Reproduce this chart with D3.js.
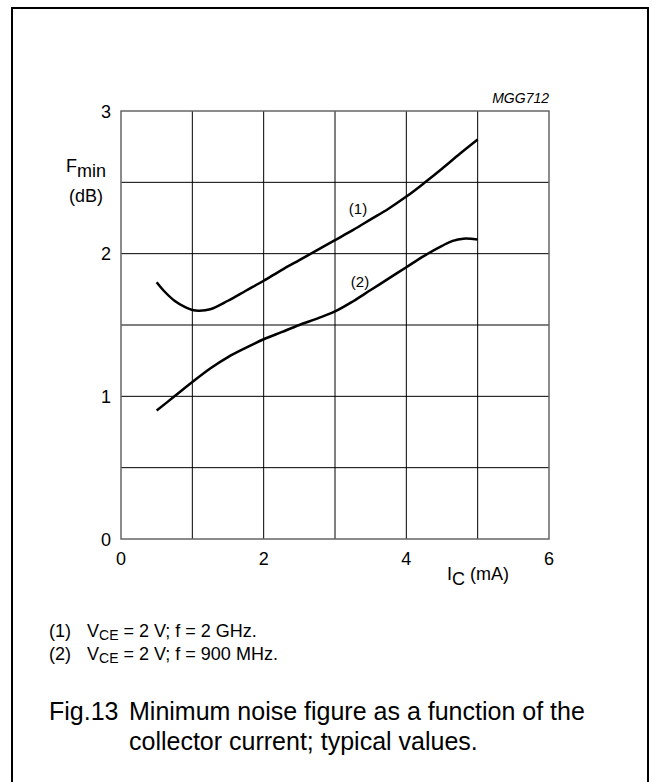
<!DOCTYPE html>
<html>
<head>
<meta charset="utf-8">
<script src="https://cdn.jsdelivr.net/npm/d3@7"></script>
<style>
  body { margin: 0; background: #fff; }
  svg text { font-family: Arial, "Liberation Sans", Helvetica, sans-serif; fill: #000; }
</style>
</head>
<body>
<div id="chart"></div>
<script>
const width = 652;
const height = 782;
const margin = {top: 111, left: 121};
const plotW = 428;
const plotH = 428;

// I_C (mA)
const icCurve1 = [0.5, 0.6, 0.75, 0.9, 1.0, 1.1, 1.25, 1.5, 1.75, 2.0, 2.25, 2.5, 2.75, 3.0, 3.25, 3.5, 3.75, 4.0, 4.25, 4.5, 4.75, 5.0];
// Fmin (dB), (1) f = 2 GHz
const fminCurve1 = [1.80, 1.74, 1.67, 1.625, 1.605, 1.60, 1.61, 1.67, 1.74, 1.81, 1.885, 1.955, 2.025, 2.095, 2.165, 2.24, 2.315, 2.40, 2.495, 2.595, 2.70, 2.80];

const icCurve2 = [0.5, 0.75, 1.0, 1.25, 1.5, 1.75, 2.0, 2.25, 2.5, 2.75, 3.0, 3.25, 3.5, 3.75, 4.0, 4.25, 4.5, 4.65, 4.8, 5.0];
// Fmin (dB), (2) f = 900 MHz
const fminCurve2 = [0.90, 1.00, 1.10, 1.195, 1.275, 1.34, 1.40, 1.45, 1.50, 1.545, 1.595, 1.665, 1.745, 1.825, 1.905, 1.985, 2.055, 2.09, 2.105, 2.10];

const xTicks = [0, 2, 4, 6];
const yTicks = [0, 1, 2, 3];
const xGrid = [1, 2, 3, 4, 5];
const yGrid = [0.5, 1, 1.5, 2, 2.5];

const svg = d3.select("#chart").append("svg")
    .attr("width", width)
    .attr("height", height);

// outer frame (open at the bottom)
svg.append("path")
    .attr("d", "M12,790 V8 H648 V790")
    .attr("fill", "none")
    .attr("stroke", "#000")
    .attr("stroke-width", 2);

const x = d3.scaleLinear().domain([0, 6]).range([margin.left, margin.left + plotW]);
const y = d3.scaleLinear().domain([0, 3]).range([margin.top + plotH, margin.top]);

const g = svg.append("g");

g.selectAll(".vgrid")
    .data(xGrid)
    .enter().append("line")
    .attr("x1", d => x(d)).attr("x2", d => x(d))
    .attr("y1", y(0)).attr("y2", y(3))
    .attr("stroke", "#000")
    .attr("stroke-width", 1);

g.selectAll(".hgrid")
    .data(yGrid)
    .enter().append("line")
    .attr("x1", x(0)).attr("x2", x(6))
    .attr("y1", d => y(d)).attr("y2", d => y(d))
    .attr("stroke", "#000")
    .attr("stroke-width", 1);

g.append("rect")
    .attr("x", x(0)).attr("y", y(3))
    .attr("width", x(6) - x(0)).attr("height", y(0) - y(3))
    .attr("fill", "none")
    .attr("stroke", "#666")
    .attr("stroke-width", 1.5);

// tick labels
g.selectAll(".ylab")
    .data(yTicks)
    .enter().append("text")
    .attr("x", x(0) - 10)
    .attr("y", d => y(d) + 6.5)
    .attr("text-anchor", "end")
    .attr("font-size", 18)
    .text(d => d);

g.selectAll(".xlab")
    .data(xTicks)
    .enter().append("text")
    .attr("x", d => x(d))
    .attr("y", y(0) + 26)
    .attr("text-anchor", "middle")
    .attr("font-size", 18)
    .text(d => d);

// axis titles
const yTitle = svg.append("text").attr("x", 66).attr("y", 172).attr("font-size", 18);
yTitle.append("tspan").text("F");
yTitle.append("tspan").attr("dy", 5).text("min");
svg.append("text").attr("x", 86).attr("y", 202).attr("text-anchor", "middle").attr("font-size", 18).text("(dB)");

const xTitle = svg.append("text").attr("x", 447).attr("y", 580).attr("font-size", 18);
xTitle.append("tspan").text("I");
xTitle.append("tspan").attr("dy", 5).text("C");
xTitle.append("tspan").attr("dy", -5).text(" (mA)");

svg.append("text")
    .attr("x", x(6)).attr("y", 103)
    .attr("text-anchor", "end")
    .attr("font-size", 14)
    .attr("font-style", "italic")
    .text("MGG712");

// curves
const line = d3.line()
    .x(d => x(d[0]))
    .y(d => y(d[1]))
    .curve(d3.curveCatmullRom);

g.append("path")
    .datum(d3.zip(icCurve1, fminCurve1))
    .attr("d", line)
    .attr("fill", "none")
    .attr("stroke", "#000")
    .attr("stroke-width", 2.5);

g.append("path")
    .datum(d3.zip(icCurve2, fminCurve2))
    .attr("d", line)
    .attr("fill", "none")
    .attr("stroke", "#000")
    .attr("stroke-width", 2.5);

svg.append("text").attr("x", 358).attr("y", 214).attr("text-anchor", "middle").attr("font-size", 15).text("(1)");
svg.append("text").attr("x", 360).attr("y", 287).attr("text-anchor", "middle").attr("font-size", 15).text("(2)");

// footnotes
const notes = [
  {num: "(1)", text: " = 2 V; f = 2 GHz.", y: 637},
  {num: "(2)", text: " = 2 V; f = 900 MHz.", y: 660}
];
notes.forEach(n => {
    svg.append("text").attr("x", 49).attr("y", n.y).attr("font-size", 18).text(n.num);
    const t = svg.append("text").attr("x", 87).attr("y", n.y).attr("font-size", 18);
    t.append("tspan").text("V");
    t.append("tspan").attr("dy", 3).attr("font-size", 14).text("CE");
    t.append("tspan").attr("dy", -3).text(n.text);
});

// caption
svg.append("text").attr("x", 49).attr("y", 720).attr("font-size", 25).text("Fig.13");
svg.append("text").attr("x", 129).attr("y", 720).attr("font-size", 25).text("Minimum noise figure as a function of the");
svg.append("text").attr("x", 129).attr("y", 750).attr("font-size", 25).text("collector current; typical values.");
</script>
</body>
</html>
